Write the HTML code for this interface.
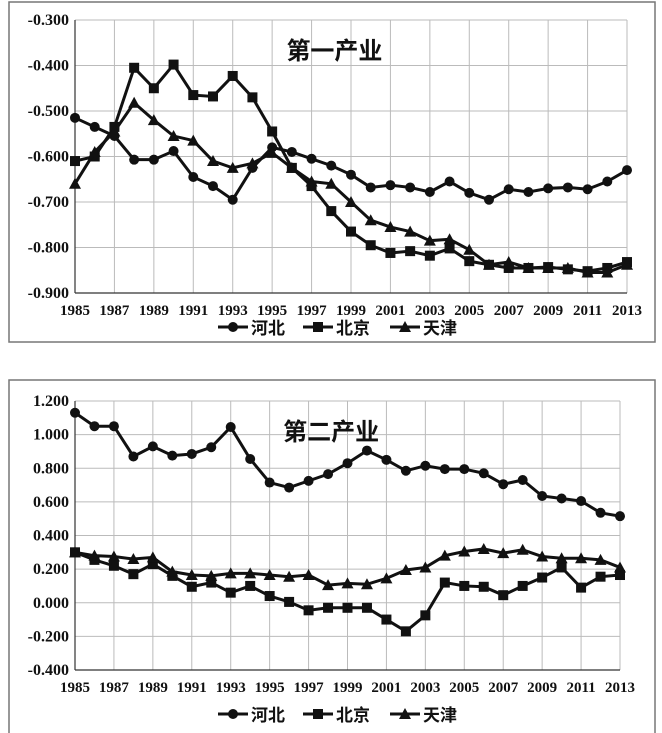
<!DOCTYPE html>
<html><head><meta charset="utf-8"><style>
body{margin:0;background:#fff;}
svg{display:block;font-family:"Liberation Serif","Noto Serif CJK SC",serif;}
</style></head><body>
<svg id="c" width="662" height="733" viewBox="0 0 662 733"></svg>
<script>
const years=[];for(let y=1985;y<=2013;y++)years.push(y);
const tickYears=[1985,1987,1989,1991,1993,1995,1997,1999,2001,2003,2005,2007,2009,2011,2013];
const seriesNames=["河北","北京","天津"];
const p1Hebei=[-0.515,-0.535,-0.555,-0.607,-0.607,-0.588,-0.645,-0.665,-0.695,-0.625,-0.580,-0.590,-0.605,-0.620,-0.640,-0.668,-0.663,-0.668,-0.678,-0.655,-0.680,-0.695,-0.672,-0.678,-0.670,-0.668,-0.672,-0.655,-0.630];
const p1Beijing=[-0.61,-0.60,-0.535,-0.405,-0.45,-0.398,-0.465,-0.468,-0.423,-0.47,-0.545,-0.625,-0.665,-0.72,-0.765,-0.795,-0.812,-0.808,-0.818,-0.802,-0.830,-0.838,-0.845,-0.845,-0.843,-0.848,-0.852,-0.845,-0.832];
const p1Tianjin=[-0.66,-0.59,-0.545,-0.482,-0.52,-0.555,-0.565,-0.61,-0.625,-0.615,-0.592,-0.625,-0.655,-0.66,-0.70,-0.74,-0.755,-0.765,-0.785,-0.782,-0.805,-0.838,-0.832,-0.845,-0.845,-0.845,-0.855,-0.855,-0.838];
const p1Ticks=[-0.3,-0.4,-0.5,-0.6,-0.7,-0.8,-0.9];
const p2Hebei=[1.13,1.05,1.05,0.87,0.93,0.875,0.885,0.925,1.045,0.855,0.715,0.685,0.725,0.765,0.83,0.905,0.85,0.785,0.815,0.795,0.795,0.77,0.705,0.73,0.635,0.62,0.605,0.535,0.515];
const p2Beijing=[0.30,0.255,0.22,0.17,0.23,0.16,0.095,0.12,0.06,0.10,0.04,0.005,-0.045,-0.03,-0.03,-0.03,-0.10,-0.17,-0.075,0.12,0.10,0.095,0.045,0.10,0.15,0.21,0.09,0.155,0.165];
const p2Tianjin=[0.30,0.28,0.275,0.26,0.27,0.185,0.165,0.16,0.175,0.175,0.165,0.155,0.165,0.105,0.115,0.11,0.145,0.195,0.21,0.28,0.305,0.32,0.295,0.315,0.275,0.265,0.265,0.255,0.21];
const p2Ticks=[1.2,1.0,0.8,0.6,0.4,0.2,0.0,-0.2,-0.4];

const svg=document.getElementById('c');const NS='http://www.w3.org/2000/svg';
function mk(t,a,parent){const e=document.createElementNS(NS,t);for(const k in a)e.setAttribute(k,a[k]);(parent||svg).appendChild(e);return e;}
function marker(g,kind,x,y){
  let m;
  if(kind===0)m=mk('circle',{cx:x,cy:y,r:5,fill:'#111'},g);
  else if(kind===1)m=mk('rect',{x:x-5,y:y-5,width:10,height:10,fill:'#111'},g);
  else m=mk('polygon',{points:`${x},${y-6} ${x-6},${y+5} ${x+6},${y+5}`,fill:'#111'},g);
  return m;
}
function chart(o){
  const frame=mk('rect',{x:o.fx,y:o.fy,width:o.fw,height:o.fh,fill:'none',stroke:'#777','stroke-width':1.5});
  
  
  const xs=y=>o.x0+(y-1985)*(o.x1-o.x0)/28;
  const ys=v=>o.y0+(o.vmax-v)*(o.y1-o.y0)/(o.vmax-o.vmin);
  const grid=mk('g',{stroke:'#bbb','stroke-width':1});
  
  
  years.forEach(y=>{if((y-1985)%2===0)mk('line',{x1:xs(y),x2:xs(y),y1:o.y0,y2:o.y1},grid);});
  o.ticks.forEach(v=>mk('line',{x1:o.x0,x2:o.x1,y1:ys(v),y2:ys(v)},grid));
  const ax=mk('g',{stroke:'#333','stroke-width':1.2});
  
  
  mk('line',{x1:o.x0,x2:o.x0,y1:o.y0,y2:o.y1},ax);
  mk('line',{x1:o.x0,x2:o.x1,y1:o.y1,y2:o.y1},ax);
  const yl=mk('g',{'font-size':16,'font-weight':'bold','text-anchor':'end',fill:'#111'});
  
  
  o.ticks.forEach(v=>{const t=mk('text',{x:o.x0-6,y:ys(v)+5},yl);t.textContent=v.toFixed(3);});
  const xl=mk('g',{'font-size':15,'font-weight':'bold','text-anchor':'middle',fill:'#111'});
  
  
  tickYears.forEach(y=>{const t=mk('text',{x:xs(y),y:o.y1+22},xl);t.textContent=y;});
  const ti=mk('text',{x:o.x0+(o.x1-o.x0)*0.47,y:o.y0+39,'font-size':24,'font-weight':'bold','text-anchor':'middle',fill:'#111','font-family':'"Noto Sans CJK SC",sans-serif'});
  
  
  ti.textContent=o.title;
  o.data.forEach((d,k)=>{
    const g=mk('g',{});
    
    
    mk('polyline',{points:d.map((v,i)=>xs(years[i])+','+ys(v)).join(' '),fill:'none',stroke:'#111','stroke-width':3},g);
    d.forEach((v,i)=>marker(g,k,xs(years[i]),ys(v)));
  });
  const lg=mk('g',{});
  
  
  const lx=[218,303,390];
  seriesNames.forEach((n,k)=>{
    const e=mk('g',{},lg);
    
    
    mk('line',{x1:lx[k],x2:lx[k]+30,y1:o.ly,y2:o.ly,stroke:'#111','stroke-width':3},e);
    marker(e,k,lx[k]+15,o.ly);
    const t=mk('text',{x:lx[k]+33,y:o.ly+7,'font-size':17,'font-weight':'bold',fill:'#111','font-family':'"Noto Sans CJK SC",sans-serif'},e);
    t.textContent=n;
  });
}
chart({id:'primary',fx:9,fy:2,fw:646,fh:340,x0:75,x1:627,y0:20,y1:293,vmin:-0.9,vmax:-0.3,ticks:p1Ticks,title:'第一产业',data:[p1Hebei,p1Beijing,p1Tianjin],ly:327});
chart({id:'secondary',fx:9,fy:380,fw:646,fh:360,x0:75,x1:620,y0:401,y1:670,vmin:-0.4,vmax:1.2,ticks:p2Ticks,title:'第二产业',data:[p2Hebei,p2Beijing,p2Tianjin],ly:714});
</script>
</body></html>
